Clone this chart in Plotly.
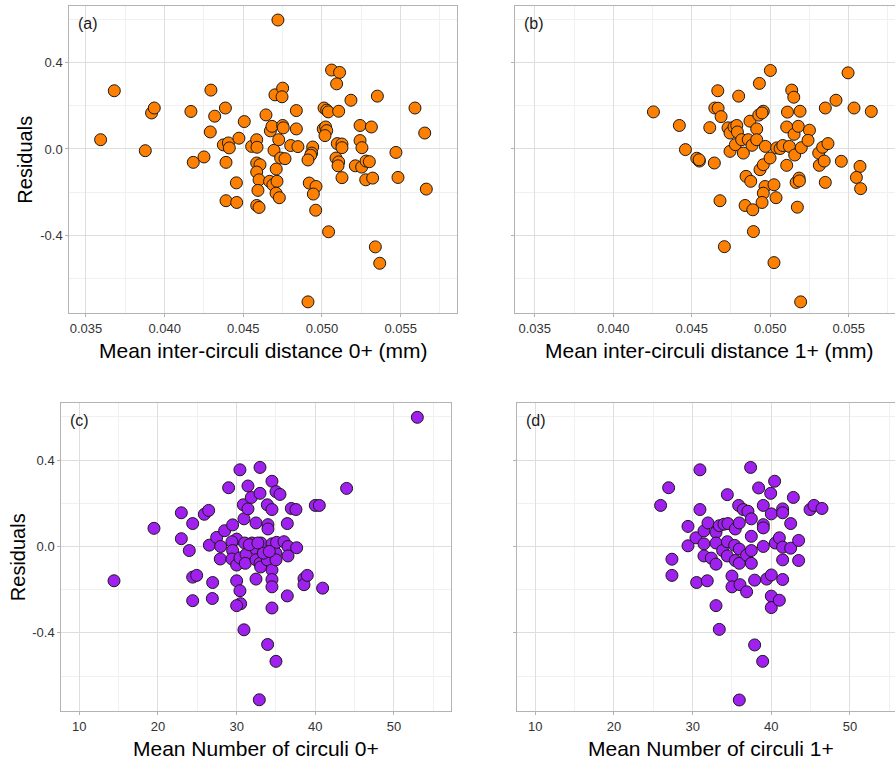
import plotly.graph_objects as go

# ---- (a) residuals vs mean inter-circuli distance, age 0+ ----
dist0 = [0.03593, 0.03680, 0.03917, 0.03934, 0.03877, 0.04167, 0.04294, 0.04290, 0.04318, 0.04182,
         0.04250, 0.04386, 0.04373, 0.04405, 0.04411, 0.04390, 0.04472, 0.04506, 0.04456, 0.04390,
         0.04458, 0.04553, 0.04585, 0.04587, 0.04585, 0.04606, 0.04585, 0.04600, 0.04593, 0.04585,
         0.04600, 0.04644, 0.04672, 0.04682, 0.04701, 0.04720, 0.04750, 0.04746, 0.04695, 0.04725,
         0.04750, 0.04754, 0.04709, 0.04667, 0.04688, 0.04714, 0.04708, 0.04729, 0.04737, 0.04765,
         0.04801, 0.04847, 0.04837, 0.04837, 0.04941, 0.04934, 0.04928, 0.04911, 0.04919, 0.04962,
         0.04945, 0.04960, 0.04911, 0.05042, 0.05013, 0.05030, 0.05040, 0.05008, 0.05023, 0.05030,
         0.05019, 0.05061, 0.05112, 0.05093, 0.05106, 0.05097, 0.05127, 0.05127, 0.05089, 0.05106,
         0.05102, 0.05127, 0.05184, 0.05212, 0.05242, 0.05242, 0.05254, 0.05252, 0.05280, 0.05301,
         0.05278, 0.05322, 0.05314, 0.05352, 0.05339, 0.05367, 0.05470, 0.05483, 0.05591, 0.05653, 0.05663]
resid_a = [0.043, 0.270, 0.167, 0.190, -0.008, 0.174, 0.273, 0.079, 0.152, -0.062,
           -0.037, 0.190, 0.019, 0.028, 0.005, -0.062, 0.050, 0.127, -0.157, -0.240,
           -0.248, 0.012, 0.043, 0.008, -0.065, -0.073, -0.107, -0.143, -0.192, -0.262,
           -0.271, 0.158, 0.084, 0.105, 0.251, 0.598, 0.282, 0.242, -0.006, 0.043,
           0.109, 0.098, -0.093, -0.150, -0.166, -0.150, -0.205, -0.226, -0.042, -0.045,
           0.016, 0.011, 0.178, 0.093, 0.009, -0.019, -0.029, -0.051, -0.158, -0.174,
           -0.209, -0.284, -0.709, -0.384, 0.190, 0.180, 0.172, 0.093, 0.102, 0.085,
           0.062, 0.366, 0.355, 0.302, 0.175, 0.025, 0.023, 0.006, -0.042, -0.060,
           -0.078, -0.133, 0.226, -0.078, 0.109, 0.039, 0.006, -0.084, -0.056, -0.059,
           -0.143, -0.135, 0.102, 0.245, -0.454, -0.530, -0.016, -0.132, 0.190, 0.074, -0.186]

# ---- (b) residuals vs mean inter-circuli distance, age 1+ ----
dist1 = [0.04256, 0.04421, 0.04460, 0.04532, 0.04549, 0.04547, 0.04615, 0.04644, 0.04666, 0.04647,
         0.04668, 0.04687, 0.04680, 0.04708, 0.04744, 0.04731, 0.04744, 0.04769, 0.04787, 0.04791,
         0.04778, 0.04799, 0.04818, 0.04829, 0.04846, 0.04876, 0.04840, 0.04889, 0.04893, 0.04871,
         0.04860, 0.04884, 0.04914, 0.04914, 0.04931, 0.04927, 0.04956, 0.04948, 0.04969, 0.04935,
         0.04956, 0.04999, 0.04967, 0.04956, 0.04948, 0.05024, 0.05037, 0.05001, 0.05024, 0.05041,
         0.05063, 0.05080, 0.05122, 0.05105, 0.05110, 0.05105, 0.05137, 0.05150, 0.05152, 0.05156,
         0.05179, 0.05190, 0.05198, 0.05165, 0.05184, 0.05186, 0.05173, 0.05194, 0.05250, 0.05241,
         0.05309, 0.05313, 0.05334, 0.05344, 0.05351, 0.05351, 0.05368, 0.05419, 0.05453, 0.05496,
         0.05534, 0.05572, 0.05549, 0.05576, 0.05644]
resid_b = [0.172, 0.109, -0.003, -0.043, -0.056, -0.050, 0.099, -0.065, 0.270, 0.190,
           0.189, 0.150, -0.240, -0.453, -0.011, 0.098, 0.074, 0.102, 0.109, 0.079,
           0.020, 0.245, 0.043, -0.019, -0.127, -0.150, -0.262, -0.282, -0.383, 0.129,
           0.043, 0.017, 0.093, 0.043, 0.304, 0.157, 0.175, 0.167, 0.012, -0.096,
           -0.073, -0.042, -0.174, -0.205, -0.248, -0.166, -0.226, 0.364, -0.527, 0.005,
           0.002, 0.016, 0.012, -0.076, 0.171, 0.102, 0.273, 0.240, 0.068, -0.028,
           0.105, 0.175, 0.006, -0.155, -0.135, -0.148, -0.270, -0.709, 0.087, 0.040,
           -0.019, -0.076, 0.008, -0.056, -0.155, 0.190, 0.025, 0.226, -0.057, 0.353,
           0.190, -0.081, -0.132, -0.184, 0.174]

# ---- (c) residuals vs mean number of circuli, age 0+ ----
ncirc0 = [14.41, 19.49, 22.97, 22.97, 23.98, 24.41, 24.41, 24.92, 24.41, 25.89,
          26.44, 26.53, 26.95, 26.91, 27.46, 27.97, 27.92, 28.47, 28.98, 29.49,
          30.00, 29.40, 29.49, 29.40, 30.00, 30.42, 30.00, 30.42, 30.51, 30.00,
          30.42, 30.93, 30.85, 30.93, 31.44, 31.44, 31.02, 31.19, 31.10, 31.86,
          31.95, 32.46, 32.46, 32.46, 32.46, 32.97, 32.97, 33.09, 32.97, 33.05,
          32.88, 33.90, 33.98, 33.98, 33.90, 33.94, 34.49, 34.49, 34.49, 34.49,
          34.49, 34.49, 34.49, 35.00, 35.51, 35.00, 35.00, 35.00, 35.08, 36.02,
          36.44, 36.53, 36.53, 36.44, 36.95, 37.54, 37.63, 38.56, 38.56, 38.98,
          40.00, 40.51, 40.93, 43.98, 52.97, 31.61, 33.39, 34.15, 32.70]
resid_c = [-0.159, 0.084, 0.156, 0.036, -0.019, 0.106, -0.142, -0.134, -0.251, 0.149,
           0.167, 0.006, -0.167, -0.241, 0.042, 0.000, -0.058, 0.073, 0.272, 0.100,
           0.034, 0.022, -0.019, -0.058, -0.086, -0.053, -0.159, -0.205, -0.265, -0.274,
           0.355, -0.386, 0.193, 0.128, 0.280, 0.174, 0.016, -0.037, -0.078, 0.227,
           0.016, 0.109, -0.012, -0.062, -0.151, 0.366, 0.246, 0.016, -0.078, -0.095,
           -0.710, 0.193, 0.101, 0.081, -0.062, -0.454, 0.302, 0.171, 0.012, -0.109,
           -0.153, -0.187, -0.285, 0.254, 0.241, -0.031, -0.062, -0.532, 0.019, 0.022,
           0.106, 0.000, -0.044, -0.229, 0.176, 0.171, -0.006, -0.149, -0.177, -0.134,
           0.190, 0.190, -0.193, 0.269, 0.598, 0.008, -0.031, -0.023, 0.016]

# ---- (d) residuals vs mean number of circuli, age 1+ ----
ncirc1 = [25.93, 26.95, 27.37, 27.37, 29.41, 29.41, 30.42, 30.51, 30.93, 30.93,
          31.44, 31.44, 31.44, 31.95, 31.86, 32.37, 32.97, 32.97, 32.97, 32.97,
          33.39, 33.39, 33.81, 33.98, 34.49, 34.41, 34.41, 34.41, 35.00, 35.00,
          35.42, 35.34, 35.42, 35.85, 35.93, 35.93, 35.93, 36.02, 35.93, 36.44,
          37.03, 36.86, 36.86, 37.37, 37.46, 37.46, 37.46, 37.46, 37.88, 37.88,
          38.39, 38.98, 38.98, 38.98, 38.98, 38.90, 39.41, 39.92, 40.42, 40.00,
          40.00, 40.00, 40.00, 40.51, 41.02, 41.02, 41.44, 41.44, 41.44, 41.44,
          41.44, 42.46, 42.46, 42.80, 43.47, 43.47, 44.92, 45.42, 46.44]
resid_d = [0.190, 0.272, -0.059, -0.134, 0.093, 0.003, 0.040, -0.167, 0.355, 0.171,
           0.012, 0.072, -0.044, 0.109, -0.159, -0.054, 0.065, 0.016, -0.082, -0.274,
           0.096, -0.384, -0.019, 0.103, 0.106, 0.240, 0.022, -0.044, -0.137, -0.187,
           0.081, 0.005, -0.065, 0.190, 0.109, -0.012, -0.078, -0.177, -0.711, 0.171,
           0.163, -0.040, -0.210, 0.366, 0.128, 0.047, -0.019, -0.078, -0.156, -0.456,
           0.271, 0.190, 0.101, 0.086, 0.000, -0.532, -0.151, 0.246, 0.302, 0.151,
           -0.132, -0.230, -0.283, 0.016, 0.040, -0.249, 0.174, 0.156, -0.003, -0.062,
           -0.153, 0.106, -0.008, 0.227, 0.028, -0.065, 0.171, 0.190, 0.176]

# tick positions / labels
dist_ticks = [0.035, 0.040, 0.045, 0.050, 0.055]
dist_minor = [0.0325, 0.0375, 0.0425, 0.0475, 0.0525, 0.0575]
ncirc_ticks = [10, 20, 30, 40, 50]
ncirc_minor = [5, 15, 25, 35, 45, 55]
resid_ticks = [-0.4, 0.0, 0.4]
resid_ticktext = ["-0.4", "0.0", "0.4"]
resid_minor = [-0.6, -0.2, 0.2, 0.6]

titles_x = ["Mean inter-circuli distance 0+ (mm)", "Mean inter-circuli distance 1+ (mm)",
            "Mean Number of circuli 0+", "Mean Number of circuli 1+"]
panel_tags = ["(a)", "(b)", "(c)", "(d)"]

ORANGE = "#FF8000"
PURPLE = "#A020F0"
FONT = "Liberation Sans, Arial, sans-serif"
BORDER = "#B3B3B3"
GRID = "#DEDEDE"
GRID_MINOR = "#F0F0F0"

W, H = 895, 760

# panel boxes in pixels: (left, right, top, bottom)
boxes = [(69.3, 457.3, 6.0, 313.3),
         (515.3, 895.0, 6.0, 313.3),
         (61.3, 451.0, 403.3, 711.0),
         (516.7, 895.0, 403.3, 711.0)]
xranges = [[0.03394, 0.05860], [0.03376, 0.05795], [7.71, 57.25], [7.64, 55.72]]
yrange = [-0.762, 0.663]

series = [(dist0, resid_a, ORANGE), (dist1, resid_b, ORANGE),
          (ncirc0, resid_c, PURPLE), (ncirc1, resid_d, PURPLE)]

fig = go.Figure()
layout = dict(width=W, height=H, margin=dict(l=0, r=0, t=0, b=0),
              paper_bgcolor="white", plot_bgcolor="white", showlegend=False,
              hovermode=False, font=dict(family=FONT))
annotations = []

for i, ((xs, ys, col), (l, r, t, b)) in enumerate(zip(series, boxes)):
    n = "" if i == 0 else str(i + 1)
    xa, ya = "x" + n, "y" + n
    fig.add_trace(go.Scatter(
        x=xs, y=ys, xaxis=xa, yaxis=ya, mode="markers",
        marker=dict(size=12, color=col, line=dict(color="#1A1A1A", width=1)),
    ))
    common = dict(showgrid=True, gridcolor=GRID, gridwidth=1, zeroline=False,
                  showline=True, linecolor=BORDER, linewidth=1,
                  ticks="outside", ticklen=3, tickwidth=1, tickcolor=BORDER,
                  tickfont=dict(family=FONT, size=13, color="#333333"))
    dist = i < 2
    layout["xaxis" + n] = dict(
        common, domain=[l / W, r / W], range=xranges[i], anchor=ya, mirror=True,
        tickmode="array",
        tickvals=dist_ticks if dist else ncirc_ticks,
        ticktext=[f"{v:.3f}" for v in dist_ticks] if dist else [str(v) for v in ncirc_ticks],
        minor=dict(tickmode="array", tickvals=dist_minor if dist else ncirc_minor,
                   showgrid=True, gridcolor=GRID_MINOR, gridwidth=1, ticks=""),
    )
    left_col = i in (0, 2)
    layout["yaxis" + n] = dict(
        common, domain=[1 - b / H, 1 - t / H], range=yrange, anchor=xa,
        mirror=left_col, tickmode="array", tickvals=resid_ticks, ticktext=resid_ticktext,
        showticklabels=left_col,
        minor=dict(tickmode="array", tickvals=resid_minor,
                   showgrid=True, gridcolor=GRID_MINOR, gridwidth=1, ticks=""),
    )
    # panel tag
    annotations.append(dict(text=panel_tags[i], xref="paper", yref="paper",
                            x=(l + 7) / W, y=1 - (t + 17) / H, xanchor="left", yanchor="middle",
                            showarrow=False, font=dict(family=FONT, size=16, color="#1A1A1A")))
    # x-axis title
    full_r = l + 388.5
    annotations.append(dict(text=titles_x[i], xref="paper", yref="paper",
                            x=((l + full_r) / 2) / W, y=1 - (b + 37) / H,
                            xanchor="center", yanchor="middle", showarrow=False,
                            font=dict(family=FONT, size=21, color="black")))
    if left_col:
        annotations.append(dict(text="Residuals", xref="paper", yref="paper",
                                x=(25 if i == 0 else 18) / W, y=1 - ((t + b) / 2) / H,
                                xanchor="center", yanchor="middle", textangle=-90,
                                showarrow=False, font=dict(family=FONT, size=20, color="black")))

layout["annotations"] = annotations
fig.update_layout(**layout)
fig.write_html("out.html")
